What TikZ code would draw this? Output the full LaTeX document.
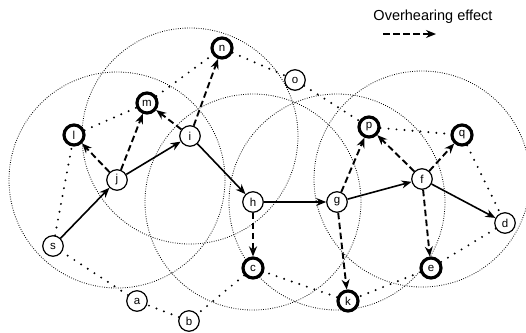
\documentclass[tikz,border=0pt]{standalone}
\usepackage{fontspec}
\setmainfont{Liberation Sans}
\usetikzlibrary{arrows.meta,backgrounds}
\begin{document}
\begin{tikzpicture}[x=1pt,y=-1pt,
  nd/.style={circle,draw,line width=1.2pt,minimum size=20.5pt,inner sep=0pt,font=\fontsize{11.5}{11.5}\selectfont,fill=white},
  bnd/.style={nd,line width=3.2pt,minimum size=20pt},
  rangecirc/.style={line width=0.8pt,dash pattern=on 0.8pt off 1.5pt},
  ringline/.style={line width=2.2pt,line cap=round,dash pattern=on 0pt off 8pt},
  hop/.style={line width=1.6pt,-{Stealth[length=10pt,width=8pt]}},
  over/.style={line width=1.9pt,dash pattern=on 6.5pt off 3.5pt,-{Stealth[length=10pt,width=8pt]}},
]
\useasboundingbox (0,0) rectangle (526,332);
% nodes
\node[nd]  (s) at (53,246) {s};
\node[nd]  (j) at (117,180) {j};
\node[nd]  (i) at (190,136) {i};
\node[nd]  (h) at (253,202) {h};
\node[nd]  (g) at (337,202) {g};
\node[nd]  (f) at (422,179) {f};
\node[nd]  (d) at (505,223) {d};
\node[bnd] (l) at (74,135) {l};
\node[bnd] (m) at (147,103) {m};
\node[bnd] (n) at (222,48) {n};
\node[nd]  (o) at (295,80) {o};
\node[bnd] (p) at (369,127) {p};
\node[bnd] (q) at (462,135) {q};
\node[bnd] (e) at (431,268) {e};
\node[bnd] (k) at (348,301) {k};
\node[bnd] (c) at (253,268) {c};
\node[nd]  (b) at (189,321) {b};
\node[nd]  (a) at (137,301) {a};
% ranges and ring
\begin{scope}[on background layer]
  \clip (0,0) rectangle (526,332);
  \foreach \ctr in {j,i,h,g,f}
    \draw[rangecirc] (\ctr.center) circle[radius=108];
  \draw[ringline] (s) -- (l);
  \draw[ringline] (l) -- (m);
  \draw[ringline] (m) -- (n);
  \draw[ringline] (n) -- (o);
  \draw[ringline] (o) -- (p);
  \draw[ringline] (p) -- (q);
  \draw[ringline] (q) -- (d);
  \draw[ringline] (d) -- (e);
  \draw[ringline] (e) -- (k);
  \draw[ringline] (k) -- (c);
  \draw[ringline] (c) -- (b);
  \draw[ringline] (b) -- (a);
  \draw[ringline] (a) -- (s);
\end{scope}
% route
\draw[hop] (s) -- (j);
\draw[hop] (j) -- (i);
\draw[hop] (i) -- (h);
\draw[hop] (h) -- (g);
\draw[hop] (g) -- (f);
\draw[hop] (f) -- (d);
% overhearing
\draw[over] (j) -- (l);
\draw[over] (j) -- (m);
\draw[over] (i) -- (m);
\draw[over] (i) -- (n);
\draw[over] (h) -- (c);
\draw[over] (g) -- (k);
\draw[over] (g) -- (p);
\draw[over] (f) -- (p);
\draw[over] (f) -- (q);
\draw[over] (f) -- (e);
% legend
\node[font=\fontsize{14.5}{14.5}\selectfont] (legtext) at (433,17) {Overhearing effect};
\coordinate (la) at (383,34);
\coordinate (lb) at (436,34);
\draw[over] (la) -- (lb);
\end{tikzpicture}
\end{document}
